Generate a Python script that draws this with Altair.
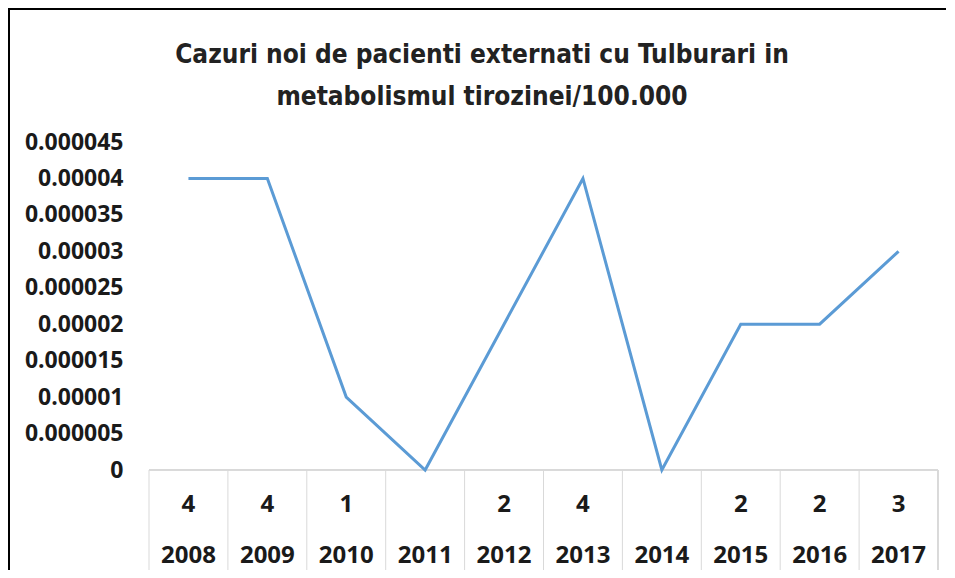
import altair as alt
import pandas as pd

years = ["2008", "2009", "2010", "2011", "2012", "2013", "2014", "2015", "2016", "2017"]
rates = [0.00004, 0.00004, 0.00001, 0.0, 0.00002, 0.00004, 0.0, 0.00002, 0.00002, 0.00003]
counts = ["4", "4", "1", "", "2", "4", "", "2", "2", "3"]
y_ticks = [0, 0.000005, 0.00001, 0.000015, 0.00002, 0.000025, 0.00003, 0.000035, 0.00004, 0.000045]
title_lines = ["Cazuri noi de pacienti externati cu Tulburari in", "metabolismul tirozinei/100.000"]

df = pd.DataFrame({"year": years, "rate": rates, "count": counts})

W, H = 789, 328
NARROW = "Liberation Sans Narrow, DejaVu Sans Condensed, Open Sans, sans-serif"
BOLD = "Open Sans, DejaVu Sans, sans-serif"
GRID = "#d9d9d9"

xscale = alt.Scale(type="band", domain=years, paddingInner=0, paddingOuter=0)

base = alt.Chart(df)

line = base.mark_line(color="#5B9BD5", strokeWidth=3).encode(
    x=alt.X("year:O", scale=xscale, axis=None, bandPosition=0.5),
    y=alt.Y(
        "rate:Q",
        scale=alt.Scale(domain=[0, 0.000045], nice=False),
        axis=alt.Axis(
            values=y_ticks, format=".6~f", title=None, domain=False, ticks=False,
            grid=False, labelFont=BOLD, labelFontSize=23, labelFontWeight="bold",
            labelColor="#1a1a1a", labelPadding=26,
        ),
    ),
)

vlines = base.mark_rule(color=GRID, strokeWidth=1).encode(
    x=alt.X("year:O", scale=xscale, axis=None, bandPosition=0),
    y=alt.value(H),
    y2=alt.value(H + 100),
)

right_line = base.mark_rule(color=GRID, strokeWidth=1).encode(
    x=alt.value(W), y=alt.value(H), y2=alt.value(H + 100)
)

top_line = base.mark_rule(color=GRID, strokeWidth=1).encode(
    x=alt.value(0), x2=alt.value(W), y=alt.value(H)
)

count_text = base.mark_text(
    font=BOLD, fontSize=24, fontWeight="bold", color="#1a1a1a", baseline="middle"
).encode(
    x=alt.X("year:O", scale=xscale, axis=None, bandPosition=0.5),
    y=alt.value(H + 35),
    text="count:N",
)

year_text = base.mark_text(
    font=BOLD, fontSize=24, fontWeight="bold", color="#1a1a1a", baseline="middle"
).encode(
    x=alt.X("year:O", scale=xscale, axis=None, bandPosition=0.5),
    y=alt.value(H + 86),
    text="year:N",
)

title_df = pd.DataFrame({"t": title_lines, "line": [0, 1]})
title = alt.Chart(title_df).mark_text(
    font=NARROW, fontSize=26, fontWeight="bold", color="#222222",
    baseline="middle", align="center",
).encode(
    x=alt.value(333),
    y=alt.Y("line:O", scale=alt.Scale(type="point", domain=[0, 1], range=[-87, -45], padding=0), axis=None),
    text="t:N",
)

border_left = base.mark_rule(color="#000000", strokeWidth=2).encode(
    x=alt.value(-140), y=alt.value(-133), y2=alt.value(H + 100)
)
border_top = base.mark_rule(color="#000000", strokeWidth=2).encode(
    x=alt.value(-141), x2=alt.value(W + 8), y=alt.value(-133)
)

chart = alt.layer(
    top_line, vlines, right_line, count_text, year_text, line, title, border_left, border_top
).resolve_scale(y="independent").properties(
    width=W,
    height=H,
    autosize=alt.AutoSizeParams(type="none"),
    padding={"left": 141, "top": 134, "right": 8, "bottom": 100},
).configure_view(stroke=None)

chart.save("out.html", embed_options={"renderer": "svg", "actions": False})
